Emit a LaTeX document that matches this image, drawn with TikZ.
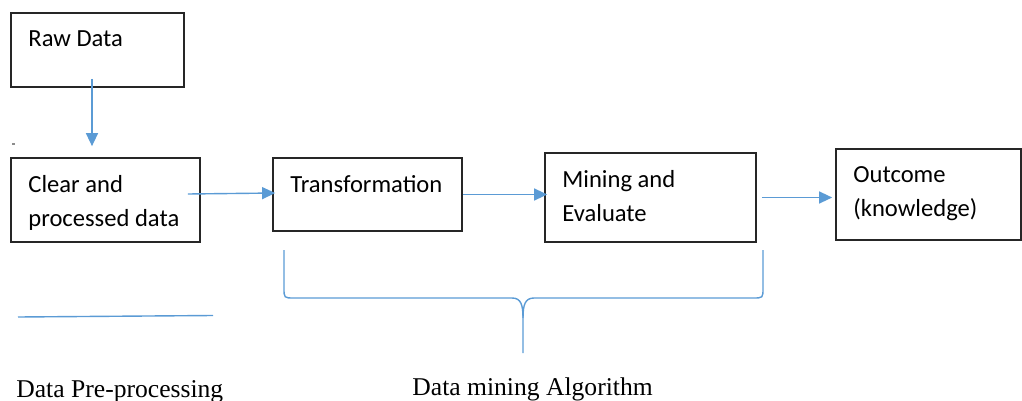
\documentclass[tikz,border=0pt]{standalone}
\usepackage{fontspec}
\setmainfont{Liberation Serif}
\newfontfamily\boxfont{Carlito}
\usetikzlibrary{arrows.meta,fit,calc}
\definecolor{wordblue}{RGB}{91,155,213}

\begin{document}
\begin{tikzpicture}[x=0.5pt, y=-0.5pt,
  box/.style={draw=black!85, line width=0.85pt, inner sep=0pt},
  lbl/.style={anchor=base west, inner sep=0pt, align=left,
    font=\boxfont\fontsize{12.3}{17}\selectfont},
  flow/.style={draw=wordblue, line width=0.7pt, -{Triangle[length=6.5pt,width=6pt]}},
  caption/.style={anchor=base west, inner sep=0pt, font=\fontsize{12.8}{15}\selectfont}]
  \useasboundingbox (0,0) rectangle (1022,401);

  \node (raw)   [box, fit={(11,13) (184,87)}] {};
  \node (clear) [box, fit={(11,158) (200,242)}] {};
  \node (trans) [box, fit={(273,158) (462,231)}] {};
  \node (mine)  [box, fit={(545,153) (756,242)}] {};
  \node (out)   [box, fit={(836,149) (1021,240)}] {};

  % base anchor sits on the last line
  \node (rawtxt)   [lbl] at (28,47)  {Raw Data};
  \node (cleartxt) [lbl] at (28,226) {Clear and\\processed data};
  \node (transtxt) [lbl] at (290,192) {Transformation};
  \node (minetxt)  [lbl] at (562,221) {Mining and\\Evaluate};
  \node (outtxt)   [lbl] at (853,216) {Outcome\\(knowledge)};

  \node (tick) [fill=black!45, inner sep=0pt, minimum width=1.5pt, minimum height=0.8pt] at (13,144) {};

  \draw[flow] ($(raw.south)+(-5.5,-9)$) -- ($(clear.north)+(-13.5,-11)$);
  \draw[flow] ($(clear.east)+(-13,-6)$) -- ($(trans.west)+(3,-1.5)$);
  \draw[flow] (trans.east) -- ($(trans.east -| mine.west)+(3,0)$);
  \draw[flow] ($(mine.east)+(5,0)$) -- ($(mine.east -| out.west)+(-3,0)$);

  % brace under the mining steps
  \coordinate (bl) at (284,250);
  \coordinate (br) at (763,250);
  \coordinate (bt) at (523,353);
  \draw[wordblue, line width=0.7pt]
    (bl) -- (284,288) .. controls (284,298) .. (294,298) -- (512,298)
    .. controls (521,298) and (523,305) .. (523,318) -- (bt);
  \draw[wordblue, line width=0.7pt]
    (523,318) .. controls (523,305) and (525,298) .. (534,298) -- (753,298)
    .. controls (763,298) .. (763,288) -- (br);

  \draw[wordblue, line width=0.7pt] (18,317) -- (213,315.5);

  \node (prep)  [caption] at (16,397)  {Data Pre-processing};
  \node (algo)  [caption] at (412,395) {Data mining Algorithm};
\end{tikzpicture}
\end{document}
